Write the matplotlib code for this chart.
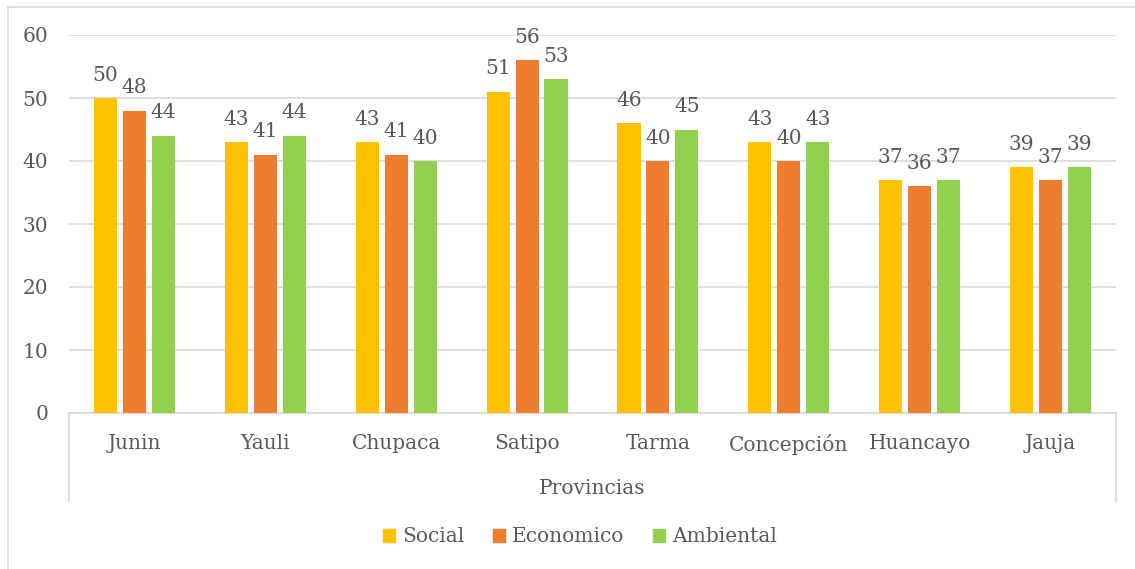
import numpy as np
import matplotlib.pyplot as plt
from matplotlib.patches import Patch

provincias = ['Junin', 'Yauli', 'Chupaca', 'Satipo', 'Tarma', 'Concepción', 'Huancayo', 'Jauja']
social = [50, 43, 43, 51, 46, 43, 37, 39]
economico = [48, 41, 41, 56, 40, 40, 36, 37]
ambiental = [44, 44, 40, 53, 45, 43, 37, 39]

series = ['Social', 'Economico', 'Ambiental']
colores = ['#FFC000', '#ED7D31', '#92D050']
gris = '#595959'
linea = '#D9D9D9'
fs = 14.5

plt.rcParams['font.family'] = ['DejaVu Serif']

fig = plt.figure(figsize=(11.35, 5.69), dpi=100)
ax = fig.add_axes([69/1135, 1 - 413/569, 1047/1135, 378/569])

x = np.arange(len(provincias))
ancho = 0.176
paso = 0.221
for i, (vals, col) in enumerate(zip([social, economico, ambiental], colores)):
    pos = x + (i - 1) * paso
    ax.bar(pos, vals, width=ancho, color=col, zorder=3)
    for p, v in zip(pos, vals):
        ax.annotate(str(v), (p, v), xytext=(0, 12.5), textcoords='offset points',
                    ha='center', va='baseline', fontsize=fs, color=gris)

ax.set_xlim(-0.5, len(provincias) - 0.5)
ax.set_ylim(0, 60)
ax.set_yticks(range(0, 61, 10))
ax.grid(axis='y', color=linea, linewidth=1.2, zorder=0)
for s in ['top', 'right', 'left']:
    ax.spines[s].set_visible(False)
ax.spines['bottom'].set_color(linea)
ax.spines['bottom'].set_linewidth(1.2)
ax.set_xticks(x)
ax.set_xticklabels(provincias)
ax.tick_params(axis='both', length=0, labelsize=fs, colors=gris)
ax.tick_params(axis='x', pad=15)
ax.tick_params(axis='y', pad=15)

# corchete de la zona de categorias
for xx in [0, 1]:
    ax.plot([xx, xx], [0, -89/378], transform=ax.transAxes, clip_on=False,
            color=linea, linewidth=1.2)

fig.text(592/1135, 1 - 488/569, 'Provincias', ha='center', va='center',
         fontsize=fs, color=gris)

handles = [Patch(color=c) for c in colores]
fig.legend(handles, series, loc='center', bbox_to_anchor=(580/1135, 1 - 537/569),
           ncol=3, frameon=False, fontsize=fs, labelcolor=gris,
           handlelength=0.6, handleheight=0.6, handletextpad=0.35, columnspacing=1.4)

# marco exterior
fig.add_artist(plt.Line2D([8/1135, 8/1135], [0, 1 - 7/569], transform=fig.transFigure,
                          color=linea, linewidth=1.2))
fig.add_artist(plt.Line2D([8/1135, 1], [1 - 7/569, 1 - 7/569], transform=fig.transFigure,
                          color=linea, linewidth=1.2))

fig.savefig('out.png', dpi=100)
